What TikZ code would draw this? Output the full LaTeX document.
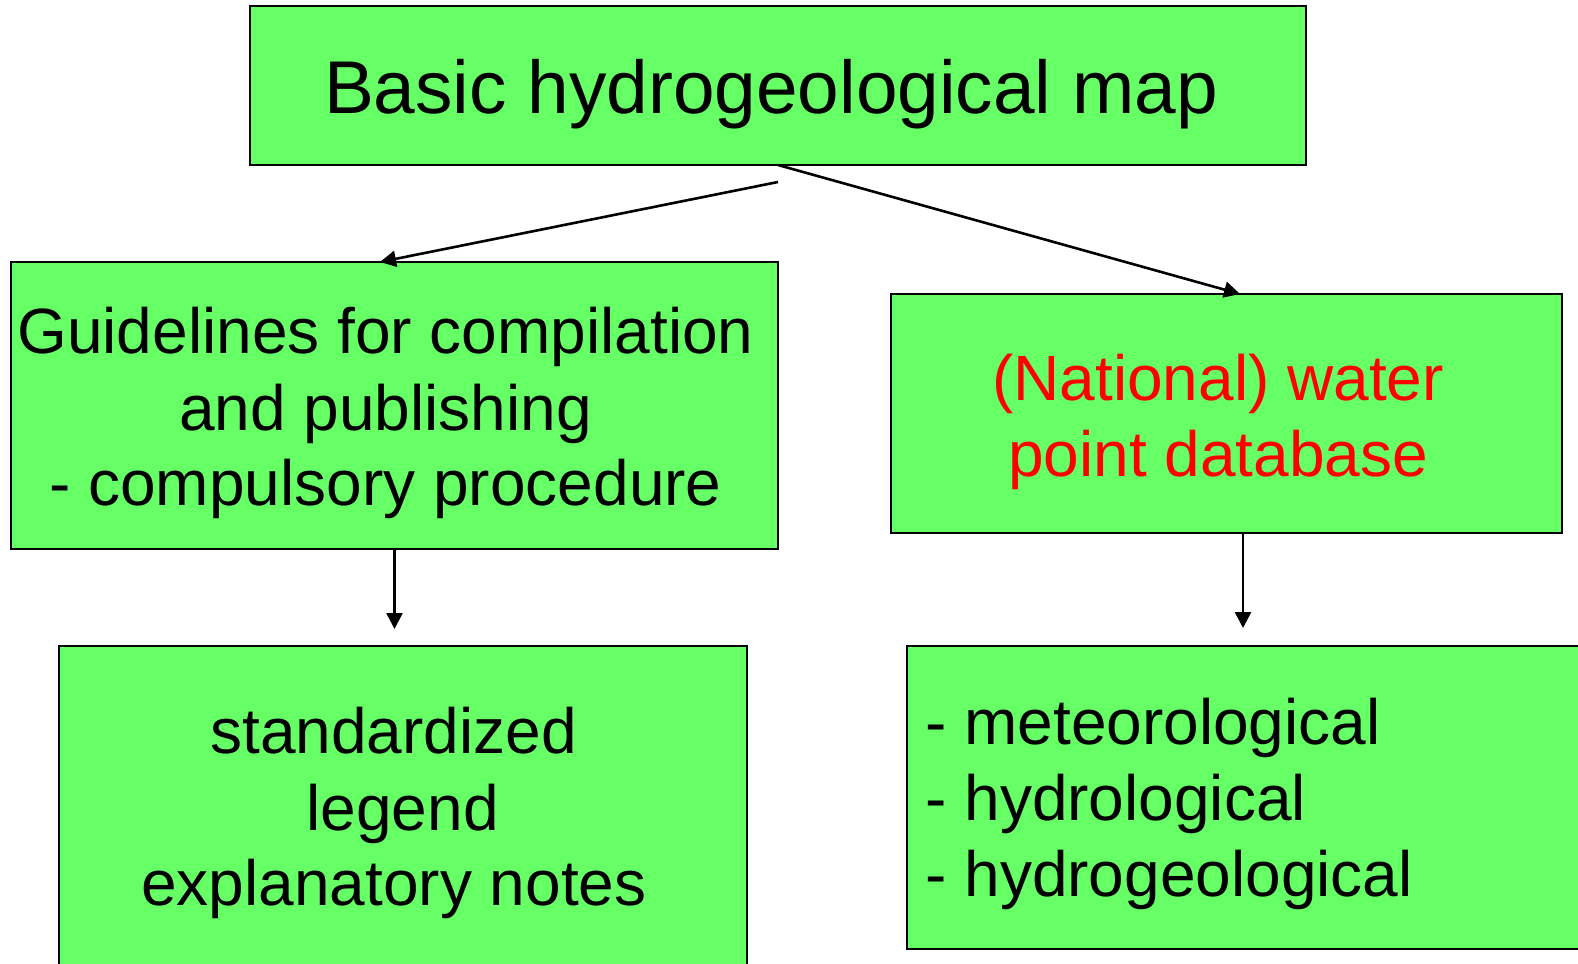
\documentclass[tikz,border=0pt]{standalone}
\usepackage{fontspec}
\setmainfont{Liberation Sans}
\usetikzlibrary{arrows.meta}
\definecolor{boxgreen}{HTML}{66FF66}
\definecolor{txtred}{HTML}{FF0000}
\begin{document}
\begin{tikzpicture}[x=0.5pt,y=-0.5pt,
  box/.style={draw=black, line width=1.1pt, fill=boxgreen, inner sep=0pt, outer sep=0pt},
  txt/.style={anchor=base, inner sep=0pt, font=\fontsize{32}{38}\selectfont},
  ttl/.style={anchor=base, inner sep=0pt, font=\fontsize{37.4}{44}\selectfont},
  arr/.style={-{Triangle[length=8pt,width=8pt]}, line width=1.3pt}]
\clip (0,0) rectangle (1578,963);
\fill[white] (0,0) rectangle (1578,963);
% boxes
\node[box, minimum width=528pt, minimum height=79.5pt] (top) at (778,85.5) {};
\node[box, minimum width=383.5pt, minimum height=143.5pt] (left) at (394.5,405.5) {};
\node[box, minimum width=335.5pt, minimum height=119.5pt] (right) at (1226.5,413.5) {};
\node[box, minimum width=344pt, minimum height=177pt] (bleft) at (403,823) {};
\node[box, minimum width=356.5pt, minimum height=151.5pt] (bright) at (1263.5,797.5) {};
% texts
\node[ttl] (t0) at (771,113.3) {Basic hydrogeological map};
\node[txt] (l1) at (385.5,353.3) {Guidelines for compilation};
\node[txt] (l2) at (385.5,430) {and publishing};
\node[txt] (l3) at (385.5,505) {- compulsory procedure};
\node[txt, text=txtred] (r1) at (1218,400) {(National) water};
\node[txt, text=txtred] (r2) at (1218,476.7) {point database};
\node[txt] (b1) at (393.5,753.3) {standardized};
\node[txt] (b2) at (402.6,830) {legend};
\node[txt] (b3) at (394,905) {explanatory notes};
\node[txt, anchor=base west] (c1) at (925,744) {- meteorological};
\node[txt, anchor=base west] (c2) at (925,820.7) {- hydrological};
\node[txt, anchor=base west] (c3) at (925,896.7) {- hydrogeological};
% connectors
\coordinate (s1) at (778,182);
\coordinate (e3) at (394.5,629);
\coordinate (e4) at (1243,628);
\draw[arr] (s1) -- ([xshift=-7.25pt]left.north);
\draw[arr] (top.south) -- ([xshift=6.75pt]right.north);
\draw[arr] (left.south) -- (e3);
\draw[arr] ([xshift=8.25pt]right.south) -- (e4);
\end{tikzpicture}
\end{document}
